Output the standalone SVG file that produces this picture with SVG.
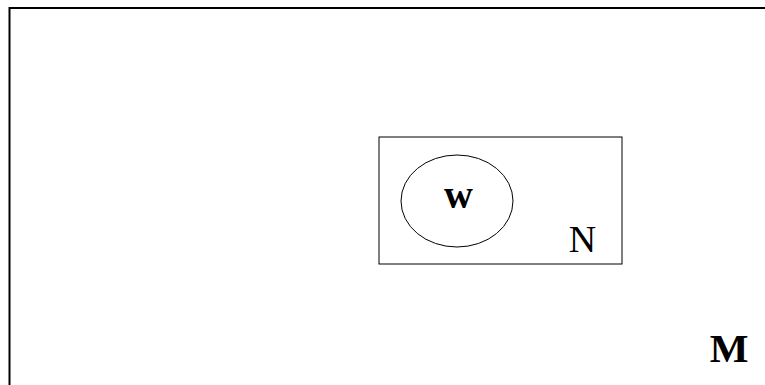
<svg xmlns="http://www.w3.org/2000/svg" width="765" height="385" viewBox="0 0 765 385">
<style>
.t{font-family:"Liberation Serif","Times New Roman",serif;fill:#000}
.ln{fill:none;stroke:#000}
</style>
<rect width="765" height="385" fill="#fff"/>
<g id="M">
<path class="ln" d="M9.5,385 V8 H765" stroke="#444" stroke-width="2"/>
<text class="t" x="729" y="362" font-size="41" font-weight="bold" text-anchor="middle">M</text>
</g>
<g id="N">
<rect class="ln" x="379" y="137" width="243" height="127" stroke-width="1"/>
<text class="t" x="582.5" y="252" font-size="38" text-anchor="middle">N</text>
</g>
<g id="w">
<ellipse class="ln" cx="457" cy="201" rx="56" ry="46" stroke-width="1"/>
<text class="t" x="458.5" y="208" font-size="40" font-weight="bold" text-anchor="middle">w</text>
</g>
<g id="connectors"/>
</svg>
